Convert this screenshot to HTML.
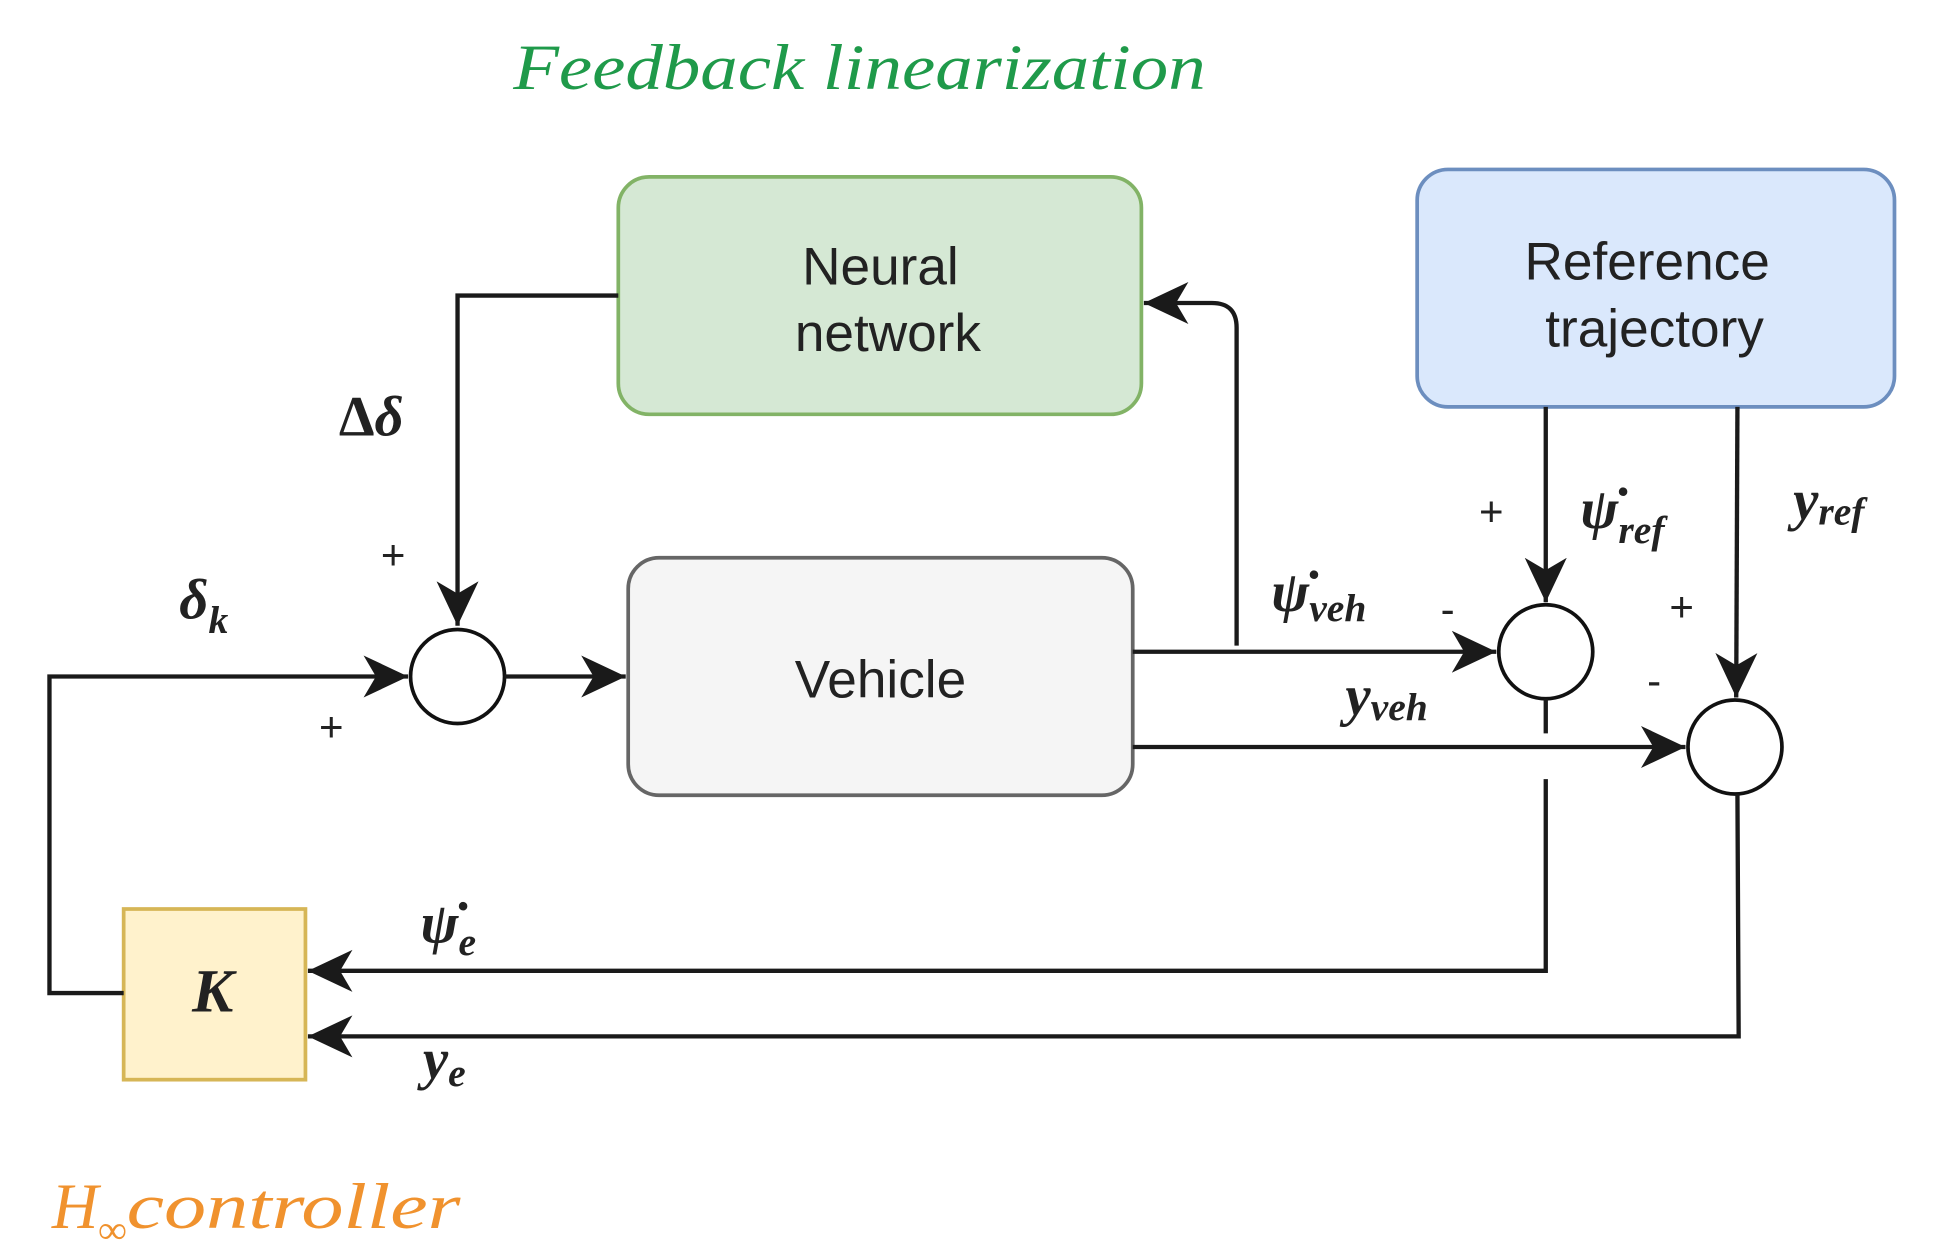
<!DOCTYPE html>
<html><head><style>html,body{margin:0;padding:0;background:#fff}svg{display:block}</style></head>
<body>
<svg width="1939" height="1259" viewBox="0 0 1568 1018" preserveAspectRatio="none" xmlns="http://www.w3.org/2000/svg">
<defs>
<marker id="b" markerWidth="38" markerHeight="38" refX="36" refY="19" orient="auto" markerUnits="userSpaceOnUse"><path d="M0,2 L36,19 L0,36 L10,19z" fill="#1a1a1a"/></marker></defs>
<g font-family="Liberation Serif, serif" font-style="italic">
<text x="415" y="72" font-size="52" fill="#1f9a4a" textLength="560" lengthAdjust="spacingAndGlyphs">Feedback linearization</text>
<text x="42" y="993" font-size="52" fill="#f0922e">H<tspan font-size="32" dy="12">∞</tspan><tspan dy="-12" textLength="270" lengthAdjust="spacingAndGlyphs">controller</tspan></text>
</g>
<rect x="500" y="143" width="423" height="192" rx="25" fill="#d5e8d4" stroke="#82b366" stroke-width="3"/>
<rect x="1146" y="137" width="386" height="192" rx="25" fill="#dae8fc" stroke="#6c8ebf" stroke-width="3"/>
<rect x="508" y="451" width="408" height="192" rx="25" fill="#f5f5f5" stroke="#666" stroke-width="3"/>
<rect x="100" y="735" width="147" height="138" fill="#fff2cc" stroke="#d6b656" stroke-width="3"/>
<g font-family="Liberation Sans, sans-serif" font-size="43" fill="#222" text-anchor="middle">
<text x="712" y="230">Neural</text><text x="718" y="284">network</text>
<text x="1332" y="226">Reference</text><text x="1338" y="280">trajectory</text>
<text x="712" y="564">Vehicle</text>
</g>
<g fill="#fff" stroke="#111" stroke-width="3">
<circle cx="370" cy="547" r="38"/><circle cx="1250" cy="527" r="38"/><circle cx="1403" cy="604" r="38"/>
</g>
<g fill="none" stroke="#1a1a1a" stroke-width="3.5">
<path d="M500,239 H370 V506" marker-end="url(#b)"/>
<path d="M100,803 H40 V547 H330" marker-end="url(#b)"/>
<path d="M408,547 H506" marker-end="url(#b)"/>
<path d="M916,527 H1210" marker-end="url(#b)"/>
<path d="M1000,522 V265 Q1000,245 980,245 H925" marker-end="url(#b)"/>
<path d="M916,604 H1363" marker-end="url(#b)"/>
<path d="M1250,329 V487" marker-end="url(#b)"/>
<path d="M1405,329 L1404,564" marker-end="url(#b)"/>
<path d="M1250,565 V593 M1250,630 V785 H249" marker-end="url(#b)"/>
<path d="M1405,642 L1406,838 H249" marker-end="url(#b)"/>
</g>
<g font-family="Liberation Serif, serif" font-style="italic" font-weight="bold" fill="#222">
<text x="172" y="818" font-size="50" text-anchor="middle">K</text>
<text x="274" y="352" font-size="46" font-style="normal">Δ<tspan font-style="italic">δ</tspan></text>
<text x="145" y="500" font-size="46">δ<tspan font-size="32" dy="12">k</tspan></text>
<text x="1028" y="494" font-size="46">ψ̇<tspan font-size="32" dy="8">veh</tspan></text>
<text x="1088" y="578" font-size="46">y<tspan font-size="32" dy="4">veh</tspan></text>
<text x="1278" y="427" font-size="46">ψ̇<tspan font-size="32" dy="12">ref</tspan></text>
<text x="1450" y="420" font-size="46">y<tspan font-size="32" dy="4">ref</tspan></text>
<text x="340" y="762" font-size="46">ψ̇<tspan font-size="32" dy="10">e</tspan></text>
<text x="342" y="872" font-size="46">y<tspan font-size="32" dy="6">e</tspan></text>
</g>
<g font-family="Liberation Sans, sans-serif" font-size="34" fill="#222">
<text x="308" y="460">+</text><text x="258" y="599">+</text>
<text x="1196" y="425">+</text><text x="1165" y="504">-</text>
<text x="1350" y="502">+</text><text x="1332" y="562">-</text>
</g>
</svg>
</body></html>
